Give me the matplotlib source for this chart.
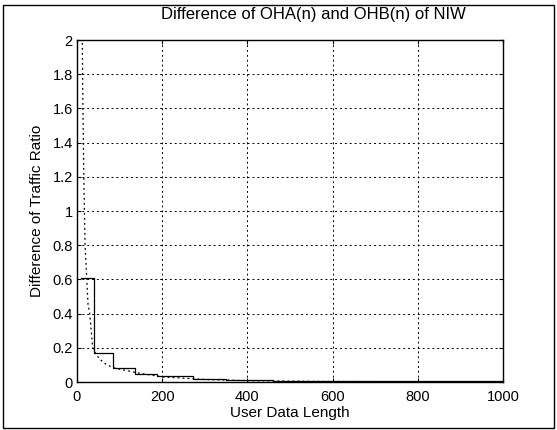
import numpy as np
import matplotlib
matplotlib.use("Agg")
from matplotlib import pyplot as plt
from matplotlib.patches import Rectangle

plt.rcParams['font.family'] = ['Liberation Sans', 'DejaVu Sans']

# solid curve (step shaped)
step_x = [10, 40, 85, 136, 188, 272, 350, 460, 1000]
step_y = [0.61, 0.17, 0.08, 0.047, 0.035, 0.02, 0.012, 0.004, 0.004]

# dotted curve
dot_x = [12, 14, 16, 19, 23, 26, 30, 37, 45, 55, 70, 90, 110, 130, 150, 200, 300, 400, 500, 600, 800, 1000]
dot_y = [2.1, 1.6, 1.2, 0.8, 0.6, 0.45, 0.4, 0.2, 0.16, 0.13, 0.1, 0.08, 0.07, 0.06, 0.05, 0.03, 0.015, 0.008, 0.005, 0.003, 0.002, 0.001]

xticks = [0, 200, 400, 600, 800, 1000]
yticks = [0, 0.2, 0.4, 0.6, 0.8, 1, 1.2, 1.4, 1.6, 1.8, 2]
ytick_labels = ['0', '0.2', '0.4', '0.6', '0.8', '1', '1.2', '1.4', '1.6', '1.8', '2']

fig = plt.figure(figsize=(5.57, 4.30), dpi=100)
ax = fig.add_axes([0.1382, 0.1116, 0.7648, 0.7953])

ax.plot(step_x, step_y, color='black', lw=0.9, drawstyle='steps-post')
ax.plot(dot_x, dot_y, color='black', lw=0.9, linestyle=(0, (1.5, 2.5)))

ax.set_xlim(0, 1000)
ax.set_ylim(0, 2)
ax.set_xticks(xticks)
ax.set_yticks(yticks)
ax.set_yticklabels(ytick_labels)
ax.tick_params(direction='in', top=True, right=True, length=3, labelsize=10.5)
ax.tick_params(axis='x', pad=6)
ax.tick_params(axis='y', pad=3)
ax.grid(True, color='black', linestyle=(0, (2, 3)), lw=0.7)
for s in ax.spines.values():
    s.set_linewidth(1.0)

ax.set_title('Difference of OHA(n) and OHB(n) of NIW', fontsize=12, x=0.554, pad=15)
ax.set_xlabel('User Data Length', fontsize=11, labelpad=1)
ax.set_ylabel('Difference of Traffic Ratio', fontsize=11, labelpad=6)

# outer frame around the whole picture
fig.patches.append(Rectangle((0.006, 0.005), 0.988, 0.983, transform=fig.transFigure,
                             fill=False, edgecolor='black', lw=1.0))

fig.savefig('out.png', dpi=100)
